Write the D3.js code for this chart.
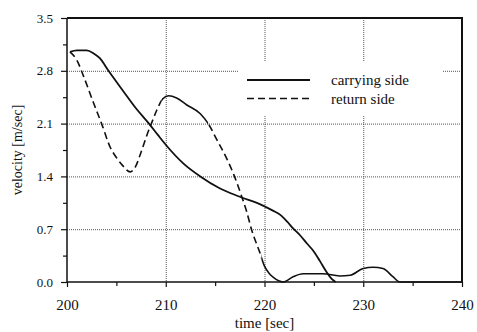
<!DOCTYPE html>
<html>
<head>
<meta charset="utf-8">
<script src="https://cdn.jsdelivr.net/npm/d3@7"></script>
<style>
  html, body { margin: 0; padding: 0; background: #fff; }
  svg { display: block; }
  text { font-family: "Liberation Serif", "Times New Roman", serif; fill: #111; }
</style>
</head>
<body>
<svg id="chart" width="477" height="332"></svg>
<script>
// Belt velocity after stop command, carrying vs. return side
const carryingTime = [200.3, 201.0, 202.0, 202.7, 203.3, 204.2, 205.7, 207.0, 208.3, 209.2, 210.0, 211.8, 213.5, 215.5, 217.5, 219.9, 220.8, 221.6, 222.3, 222.9, 223.6, 224.3, 224.9, 225.6, 226.3, 226.8, 227.2];
const carryingVel  = [3.05, 3.07, 3.07, 3.03, 2.97, 2.80, 2.53, 2.30, 2.10, 1.95, 1.82, 1.57, 1.40, 1.24, 1.13, 1.01, 0.95, 0.89, 0.80, 0.71, 0.62, 0.51, 0.42, 0.28, 0.13, 0.04, 0.0];

const returnTime = [200.3, 201.0, 201.7, 202.7, 203.5, 204.4, 205.0, 205.6, 206.4, 206.9, 207.5, 208.1, 208.6, 209.1, 209.7, 210.3, 211.1, 212.1, 213.5, 214.3, 215.2, 216.2, 216.9, 217.7, 218.2, 218.7, 219.5, 220.0, 220.5, 220.9, 221.9, 222.9, 223.9, 225.9, 227.6, 228.7, 230.0, 231.0, 232.0, 233.0, 233.7, 240.0];
const returnVel  = [3.05, 2.94, 2.72, 2.37, 2.10, 1.78, 1.65, 1.55, 1.46, 1.52, 1.72, 1.95, 2.12, 2.28, 2.43, 2.47, 2.44, 2.35, 2.23, 2.10, 1.88, 1.63, 1.42, 1.13, 0.93, 0.69, 0.40, 0.21, 0.11, 0.06, 0.0, 0.07, 0.11, 0.11, 0.08, 0.09, 0.18, 0.195, 0.18, 0.07, 0.0, 0.0];
// time spans where the return-side trace is printed dashed
const returnDashedSpans = [[200, 209.6], [214.3, 219.7]];

const xTicks = [200, 210, 220, 230, 240];
const yTicks = [0.0, 0.7, 1.4, 2.1, 2.8, 3.5];
const seriesNames = ["carrying side", "return side"];

const svg = d3.select("#chart");
const plotL = 67, plotR = 462, plotT = 18, plotB = 282;

const x = d3.scaleLinear().domain([200, 240]).range([plotL, plotR]);
const y = d3.scaleLinear().domain([0, 3.5]).range([plotB, plotT]);

// grid
const grid = svg.append("g").attr("stroke", "#555").attr("stroke-width", 1).attr("stroke-dasharray", "1,1");
yTicks.slice(1, -1).forEach(v => {
  grid.append("line").attr("x1", plotL).attr("x2", plotR).attr("y1", y(v) + 0.5).attr("y2", y(v) + 0.5);
});
xTicks.slice(1, -1).forEach(v => {
  grid.append("line").attr("x1", x(v) + 0.5).attr("x2", x(v) + 0.5).attr("y1", plotT).attr("y2", plotB);
});

// legend background hides the grid beneath it
svg.append("rect").attr("x", 238).attr("y", 62).attr("width", 204).attr("height", 53).attr("fill", "#fff");

// axes
const yAxis = d3.axisLeft(y).tickValues(yTicks).tickSize(6).tickPadding(8).tickFormat(d3.format(".1f"));
const yMinor = d3.axisLeft(y).tickValues(d3.range(0.35, 3.5, 0.7)).tickSize(4).tickFormat("");
const xAxis = d3.axisBottom(x).tickValues(xTicks).tickSize(5).tickPadding(12).tickFormat(d3.format("d"));
const xMinor = d3.axisBottom(x).tickValues(d3.range(205, 240, 10)).tickSize(4).tickFormat("");

function styleAxis(g, size) {
  g.select(".domain").remove();
  g.attr("font-family", null);
  g.selectAll("line").attr("stroke", "#111").attr("stroke-width", 1.2);
  g.selectAll("text").attr("font-size", size).attr("fill", "#111");
}
svg.append("g").attr("transform", `translate(${plotL},0)`).call(yAxis).call(g => styleAxis(g, 13));
svg.append("g").attr("transform", `translate(${plotL},0)`).call(yMinor).call(g => styleAxis(g, 13));
svg.append("g").attr("transform", `translate(0,${plotB})`).call(xAxis).call(g => styleAxis(g, 15));
svg.append("g").attr("transform", `translate(0,${plotB})`).call(xMinor).call(g => styleAxis(g, 15));

// frame
svg.append("line").attr("x1", plotL).attr("x2", plotL).attr("y1", plotT).attr("y2", plotB).attr("stroke", "#111").attr("stroke-width", 1.5);
svg.append("line").attr("x1", plotL).attr("x2", plotR + 1).attr("y1", plotB).attr("y2", plotB).attr("stroke", "#111").attr("stroke-width", 1.5);
svg.append("line").attr("x1", plotL).attr("x2", plotR + 1).attr("y1", plotT).attr("y2", plotT).attr("stroke", "#111").attr("stroke-width", 2);
svg.append("line").attr("x1", plotR).attr("x2", plotR).attr("y1", plotT).attr("y2", plotB).attr("stroke", "#111").attr("stroke-width", 2);

// curves
const line = d3.line().x(d => x(d[0])).y(d => y(d[1])).curve(d3.curveMonotoneX);
const carrying = d3.zip(carryingTime, carryingVel);
const ret = d3.zip(returnTime, returnVel);

svg.append("path").datum(carrying).attr("d", line)
  .attr("fill", "none").attr("stroke", "#111").attr("stroke-width", 1.8);

// return side: dashed where printed dashed, solid in the gaps between (via clip paths)
const defs = svg.append("defs");
const dashClip = defs.append("clipPath").attr("id", "dashClip");
returnDashedSpans.forEach(s => {
  dashClip.append("rect").attr("x", x(s[0])).attr("y", 0).attr("width", x(s[1]) - x(s[0])).attr("height", 332);
});
const solidClip = defs.append("clipPath").attr("id", "solidClip");
returnDashedSpans.forEach((s, i) => {
  const next = i + 1 < returnDashedSpans.length ? returnDashedSpans[i + 1][0] : 241;
  solidClip.append("rect").attr("x", x(s[1])).attr("y", 0).attr("width", x(next) - x(s[1])).attr("height", 332);
});
svg.append("path").datum(ret).attr("d", line).attr("clip-path", "url(#dashClip)")
  .attr("fill", "none").attr("stroke", "#111").attr("stroke-width", 1.6).attr("stroke-dasharray", "7,4");
svg.append("path").datum(ret).attr("d", line).attr("clip-path", "url(#solidClip)")
  .attr("fill", "none").attr("stroke", "#111").attr("stroke-width", 1.6);

// legend
const lg = svg.append("g");
lg.append("line").attr("x1", 247).attr("x2", 310).attr("y1", 80).attr("y2", 80).attr("stroke", "#111").attr("stroke-width", 1.8);
lg.append("line").attr("x1", 247).attr("x2", 310).attr("y1", 98.5).attr("y2", 98.5).attr("stroke", "#111").attr("stroke-width", 1.6).attr("stroke-dasharray", "7,4");
lg.append("text").attr("x", 331).attr("y", 85).attr("font-size", 15).text(seriesNames[0]);
lg.append("text").attr("x", 331).attr("y", 103.5).attr("font-size", 15).text(seriesNames[1]);

// axis titles
svg.append("text").attr("x", (plotL + plotR) / 2).attr("y", 328).attr("text-anchor", "middle").attr("font-size", 15).text("time [sec]");
svg.append("text").attr("transform", `translate(22,${(plotT + plotB) / 2}) rotate(-90)`).attr("text-anchor", "middle").attr("font-size", 14).text("velocity [m/sec]");
</script>
</body>
</html>
